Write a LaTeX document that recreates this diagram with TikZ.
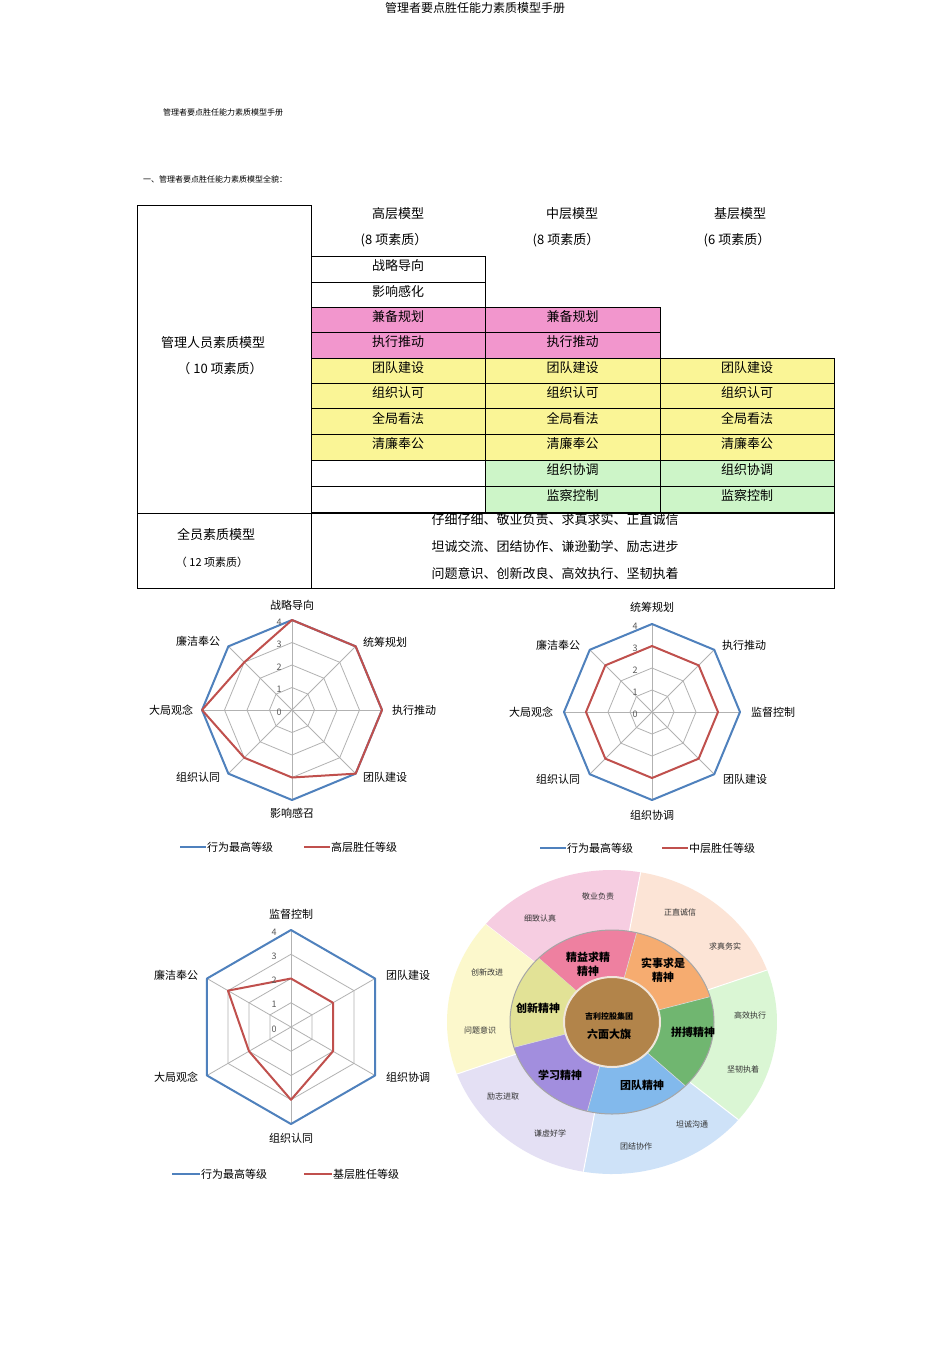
\documentclass[tikz,border=0pt]{standalone}
\usepackage{fontspec}
\setmainfont{Noto Sans CJK SC}
\definecolor{pk}{RGB}{242,150,205}
\definecolor{yl}{RGB}{250,245,150}
\definecolor{gn}{RGB}{205,245,200}
\definecolor{bl}{RGB}{79,129,189}
\definecolor{rd}{RGB}{192,80,77}
\definecolor{o1}{RGB}{246,205,225}
\definecolor{o2}{RGB}{252,228,214}
\definecolor{o3}{RGB}{218,246,212}
\definecolor{o4}{RGB}{206,226,248}
\definecolor{o5}{RGB}{228,224,244}
\definecolor{o6}{RGB}{252,248,204}
\definecolor{i1}{RGB}{238,128,160}
\definecolor{i2}{RGB}{246,172,112}
\definecolor{i3}{RGB}{112,182,112}
\definecolor{i4}{RGB}{130,185,236}
\definecolor{i5}{RGB}{162,142,222}
\definecolor{i6}{RGB}{226,226,150}
\definecolor{br}{RGB}{178,132,74}
\begin{document}
\begin{tikzpicture}[x=1pt,y=-1pt,
  tx/.style={font=\fontsize{13}{15}\selectfont,inner sep=0pt},
  sm/.style={font=\fontsize{8}{10}\selectfont,inner sep=0pt},
  cellb/.style={draw=black,line width=0.8pt},
  grid/.style={draw=gray!60,line width=0.8pt},
  bll/.style={draw=bl,line width=2pt,line join=round},
  rdl/.style={draw=rd,line width=2pt,line join=round},
  lab/.style={font=\fontsize{11}{13}\selectfont,inner sep=0pt},
  tk/.style={font=\fontsize{9}{11}\selectfont,inner sep=0pt,text=gray!70!black},
  wl/.style={font=\fontsize{8}{10}\selectfont,inner sep=0pt,text=black!80},
  wi/.style={font=\bfseries\fontsize{11}{14}\selectfont,inner sep=0pt,align=center}]
\fill[white] (0,0) rectangle (950,1345);
\useasboundingbox (0,0) rectangle (950,1345);
\node[font=\fontsize{12}{14}\selectfont,inner sep=0pt] (title) at (475,8) {管理者要点胜任能力素质模型手册};
\node[sm,anchor=west] (sub) at (163,112) {管理者要点胜任能力素质模型手册};
\node[sm,anchor=west] (sec) at (143,179) {一、管理者要点胜任能力素质模型全貌：};
% table
\draw[cellb] (137,205) rectangle (311,513);
\draw[cellb] (137,513) rectangle (834,588);
\draw[cellb] (311,513) -- (311,588);
\node[tx] (h1) at (398,214) {高层模型};
\node[tx] (h2) at (572,214) {中层模型};
\node[tx] (h3) at (740,214) {基层模型};
\node[tx] (q1) at (394,240) {(8 项素质）};
\node[tx] (q2) at (566,240) {(8 项素质）};
\node[tx] (q3) at (737,240) {(6 项素质）};
\node[tx] (m1) at (213,343) {管理人员素质模型};
\node[tx] (m2) at (220,369) {（ 10 项素质）};
\node[tx] (a1) at (216,535) {全员素质模型};
\node[tx,font=\fontsize{11}{13}\selectfont] (a2) at (212,562) {（ 12 项素质）};
\node[tx] (r1) at (555,520) {仔细仔细、敬业负责、求真求实、正直诚信};
\node[tx] (r2) at (555,547) {坦诚交流、团结协作、谦逊勤学、励志进步};
\node[tx] (r3) at (555,574) {问题意识、创新改良、高效执行、坚韧执着};
\newcommand\cellx[6]{\filldraw[cellb,fill=#5] (#1,#2) rectangle (#3,#4); \node[tx] at ({(#1+#3)/2},{(#2+#4)/2-3}) {#6};}
\cellx{311}{256}{485}{282}{white}{战略导向}
\cellx{311}{282}{485}{307}{white}{影响感化}
\cellx{311}{307}{485}{332}{pk}{兼备规划}
\cellx{485}{307}{660}{332}{pk}{兼备规划}
\cellx{311}{332}{485}{358}{pk}{执行推动}
\cellx{485}{332}{660}{358}{pk}{执行推动}
\cellx{311}{358}{485}{383}{yl}{团队建设}
\cellx{485}{358}{660}{383}{yl}{团队建设}
\cellx{660}{358}{834}{383}{yl}{团队建设}
\cellx{311}{383}{485}{408}{yl}{组织认可}
\cellx{485}{383}{660}{408}{yl}{组织认可}
\cellx{660}{383}{834}{408}{yl}{组织认可}
\cellx{311}{408}{485}{434}{yl}{全局看法}
\cellx{485}{408}{660}{434}{yl}{全局看法}
\cellx{660}{408}{834}{434}{yl}{全局看法}
\cellx{311}{434}{485}{460}{yl}{清廉奉公}
\cellx{485}{434}{660}{460}{yl}{清廉奉公}
\cellx{660}{434}{834}{460}{yl}{清廉奉公}
\cellx{311}{460}{485}{486}{white}{}
\cellx{485}{460}{660}{486}{gn}{组织协调}
\cellx{660}{460}{834}{486}{gn}{组织协调}
\cellx{311}{486}{485}{512}{white}{}
\cellx{485}{486}{660}{512}{gn}{监察控制}
\cellx{660}{486}{834}{512}{gn}{监察控制}
% radar 1
\begin{scope}[shift={(292,710)}]
\foreach \l in {1,...,4} \draw[grid] plot[samples at={0,...,7}] ({45*\x-90}:{\l*22.5}) -- cycle;
\foreach \k in {0,...,7} \draw[grid] (0,0) -- ({45*\k-90}:90);
\draw[bll] plot[samples at={0,...,7}] ({45*\x-90}:90) -- cycle;
\draw[rdl] plot[samples at={0,...,7}] ({45*\x-90}:{22.5*{4,4,4,4,3,3,4,3}[\x]}) -- cycle;
\foreach \v in {0,...,4} \node[tk] at (-13,{-22.5*\v+2}) {\v};
\end{scope}
\node[lab] (c1a) at (292,605) {战略导向};
\node[lab] (c1b) at (385,642) {统筹规划};
\node[lab] (c1c) at (414,710) {执行推动};
\node[lab] (c1d) at (385,777) {团队建设};
\node[lab] (c1e) at (292,813) {影响感召};
\node[lab] (c1f) at (198,777) {组织认同};
\node[lab] (c1g) at (171,710) {大局观念};
\node[lab] (c1h) at (198,641) {廉洁奉公};
\draw[bl,line width=1.5pt] (180,847) -- (206,847);
\node[lab,anchor=west] (g1a) at (207,847) {行为最高等级};
\draw[rd,line width=1.5pt] (304,847) -- (330,847);
\node[lab,anchor=west] (g1b) at (331,847) {高层胜任等级};
% radar 2
\begin{scope}[shift={(652,712)}]
\foreach \l in {1,...,4} \draw[grid] plot[samples at={0,...,7}] ({45*\x-90}:{\l*22}) -- cycle;
\foreach \k in {0,...,7} \draw[grid] (0,0) -- ({45*\k-90}:88);
\draw[bll] plot[samples at={0,...,7}] ({45*\x-90}:88) -- cycle;
\draw[rdl] plot[samples at={0,...,7}] ({45*\x-90}:66) -- cycle;
\foreach \v in {0,...,4} \node[tk] at (-17,{-22*\v+2}) {\v};
\end{scope}
\node[lab] (c2a) at (652,607) {统筹规划};
\node[lab] (c2b) at (744,645) {执行推动};
\node[lab] (c2c) at (773,712) {监督控制};
\node[lab] (c2d) at (745,779) {团队建设};
\node[lab] (c2e) at (652,815) {组织协调};
\node[lab] (c2f) at (558,779) {组织认同};
\node[lab] (c2g) at (531,712) {大局观念};
\node[lab] (c2h) at (558,645) {廉洁奉公};
\draw[bl,line width=1.5pt] (540,848) -- (566,848);
\node[lab,anchor=west] (g2a) at (567,848) {行为最高等级};
\draw[rd,line width=1.5pt] (662,848) -- (688,848);
\node[lab,anchor=west] (g2b) at (689,848) {中层胜任等级};
% radar 3
\begin{scope}[shift={(291,1027)}]
\foreach \l in {1,...,4} \draw[grid] plot[samples at={0,...,5}] ({60*\x-90}:{\l*24.25}) -- cycle;
\foreach \k in {0,...,5} \draw[grid] (0,0) -- ({60*\k-90}:97);
\draw[bll] plot[samples at={0,...,5}] ({60*\x-90}:97) -- cycle;
\draw[rdl] plot[samples at={0,...,5}] ({60*\x-90}:{24.25*{2,2,2,3,2,3}[\x]}) -- cycle;
\foreach \v in {0,...,4} \node[tk] at (-17,{-24.25*\v+2}) {\v};
\end{scope}
\node[lab] (c3a) at (291,914) {监督控制};
\node[lab] (c3b) at (408,975) {团队建设};
\node[lab] (c3c) at (408,1077) {组织协调};
\node[lab] (c3d) at (291,1138) {组织认同};
\node[lab] (c3e) at (176,1077) {大局观念};
\node[lab] (c3f) at (176,975) {廉洁奉公};
\draw[bl,line width=1.5pt] (172,1174) -- (200,1174);
\node[lab,anchor=west] (g3a) at (201,1174) {行为最高等级};
\draw[rd,line width=1.5pt] (304,1174) -- (332,1174);
\node[lab,anchor=west] (g3b) at (333,1174) {基层胜任等级};
% wheel
\begin{scope}[shift={(612,1022)}]
\foreach \a/\c in {-140/o1,-80/o2,-20/o3,40/o4,100/o5,160/o6}{
  \fill[\c] (0,0) -- (\a:165 and 152) arc[start angle=\a,end angle=\a+60,x radius=165,y radius=152] -- cycle;
  \draw[white,line width=1pt] (0,0) -- (\a:165 and 152);}
\foreach \a/\c in {-136/i1,-76/i2,-16/i3,44/i4,104/i5,164/i6}{
  \fill[\c] (0,0) -- (\a:102 and 92) arc[start angle=\a,end angle=\a+60,x radius=102,y radius=92] -- cycle;
  \draw[white!70!gray,line width=0.6pt] (0,0) -- (\a:102 and 92);}
\draw[gray!60!black!50,line width=1pt] (0,0) ellipse[x radius=102,y radius=92];
\filldraw[fill=br,draw=white!80!br,line width=2pt] (0,0) ellipse[x radius=48,y radius=45];
\end{scope}
\node[wl] (w1) at (598,896) {敬业负责};
\node[wl] (w2) at (540,918) {细致认真};
\node[wl] (w3) at (680,912) {正直诚信};
\node[wl] (w4) at (725,946) {求真务实};
\node[wl] (w5) at (487,972) {创新改进};
\node[wl] (w6) at (480,1030) {问题意识};
\node[wl] (w7) at (750,1015) {高效执行};
\node[wl] (w8) at (743,1069) {坚韧执着};
\node[wl] (w9) at (503,1096) {励志进取};
\node[wl] (w10) at (550,1133) {谦虚好学};
\node[wl] (w11) at (692,1124) {坦诚沟通};
\node[wl] (w12) at (636,1146) {团结协作};
\node[wi] (s1) at (588,964) {精益求精\\精神};
\node[wi] (s2) at (663,970) {实事求是\\精神};
\node[wi] (s3) at (538,1008) {创新精神};
\node[wi] (s4) at (693,1032) {拼搏精神};
\node[wi] (s5) at (560,1075) {学习精神};
\node[wi] (s6) at (642,1085) {团队精神};
\node[wi,font=\bfseries\fontsize{8}{10}\selectfont] (ct1) at (609,1016) {吉利控股集团};
\node[wi] (ct2) at (609,1034) {六面大旗};
\end{tikzpicture}
\end{document}
